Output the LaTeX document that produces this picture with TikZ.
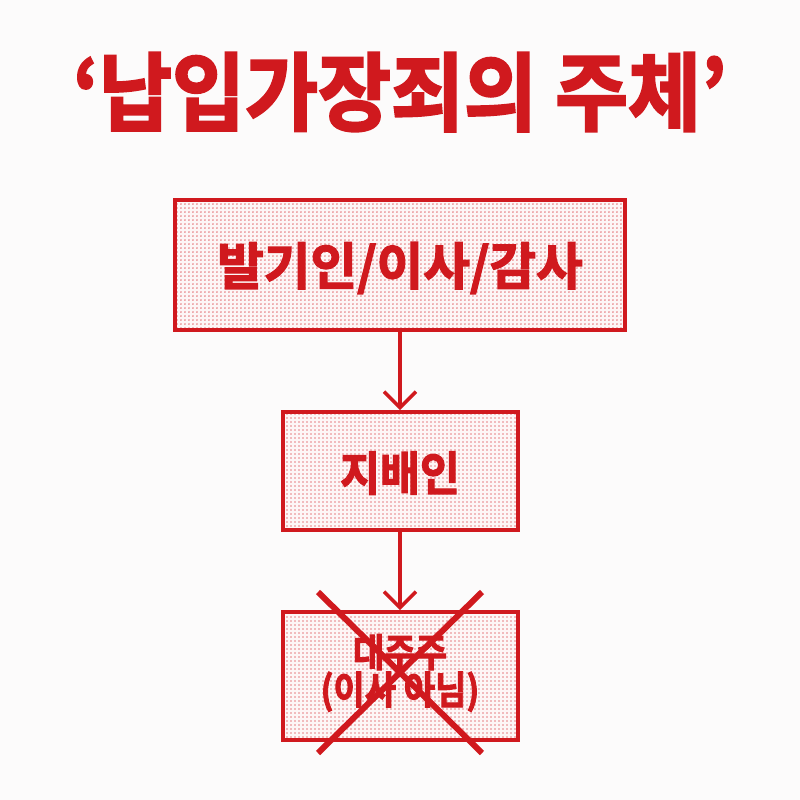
\documentclass[tikz,border=0pt]{standalone}
\usepackage{fontspec}
\newfontfamily\kr{Noto Sans CJK KR}[BoldFont={* Bold},BoldFeatures={FakeBold=2.6}]
\usetikzlibrary{arrows.meta,patterns.meta}
\definecolor{myred}{HTML}{D0191E}
\definecolor{bg}{HTML}{FCFBFB}
\tikzdeclarepattern{name=rdots,type=uncolored,bottom left={(0pt,0pt)},top right={(3.3pt,3.3pt)},tile size={(3.3pt,3.3pt)},code={\fill (1.65pt,1.65pt) circle (0.75pt);}}
\begin{document}
\begin{tikzpicture}[x=0.75pt,y=-0.75pt,
  boxst/.style={draw=myred,line width=3pt,preaction={fill=myred!4},pattern=rdots,pattern color=myred!55},
  lbl/.style={text=myred,font=\kr\bfseries},
  arr/.style={draw=myred,line width=2.6pt,-{Straight Barb[length=12pt,width=24pt,line width=2.6pt]}},
  crossst/.style={draw=myred,line width=4.5pt}]
\fill[bg] (0,0) rectangle (800,800);
\useasboundingbox (0,0) rectangle (800,800);
\node[lbl,font=\kr\bfseries\fontsize{64}{68}\selectfont,xscale=0.93] (title) at (400,92) {‘납입가장죄의 주체’};
\node[boxst,minimum width=450*0.75pt,minimum height=130*0.75pt] (b1) at (400,265) {};
\node[lbl,font=\kr\bfseries\fontsize{38}{42}\selectfont] (t1) at (400,268) {발기인/이사/감사};
\node[boxst,minimum width=235*0.75pt,minimum height=118*0.75pt] (b2) at (400,471) {};
\node[lbl,font=\kr\bfseries\fontsize{35}{38}\selectfont,xscale=0.93] (t2) at (400,473) {지배인};
\node[boxst,minimum width=235*0.75pt,minimum height=128*0.75pt] (b3) at (400,676) {};
\node[lbl,font=\kr\bfseries\fontsize{29}{28}\selectfont,xscale=0.88,align=center,inner sep=0pt] (t3) at (400,673) {대주주\\(이사 아님)};
\draw[arr] (b1.south) -- (b2.north);
\draw[arr] (b2.south) -- (b3.north);
\coordinate (c1) at (318,592);
\coordinate (c2) at (482,753);
\coordinate (c3) at (482,592);
\coordinate (c4) at (318,753);
\draw[crossst] (c1) -- (c2);
\draw[crossst] (c3) -- (c4);
\end{tikzpicture}
\end{document}
